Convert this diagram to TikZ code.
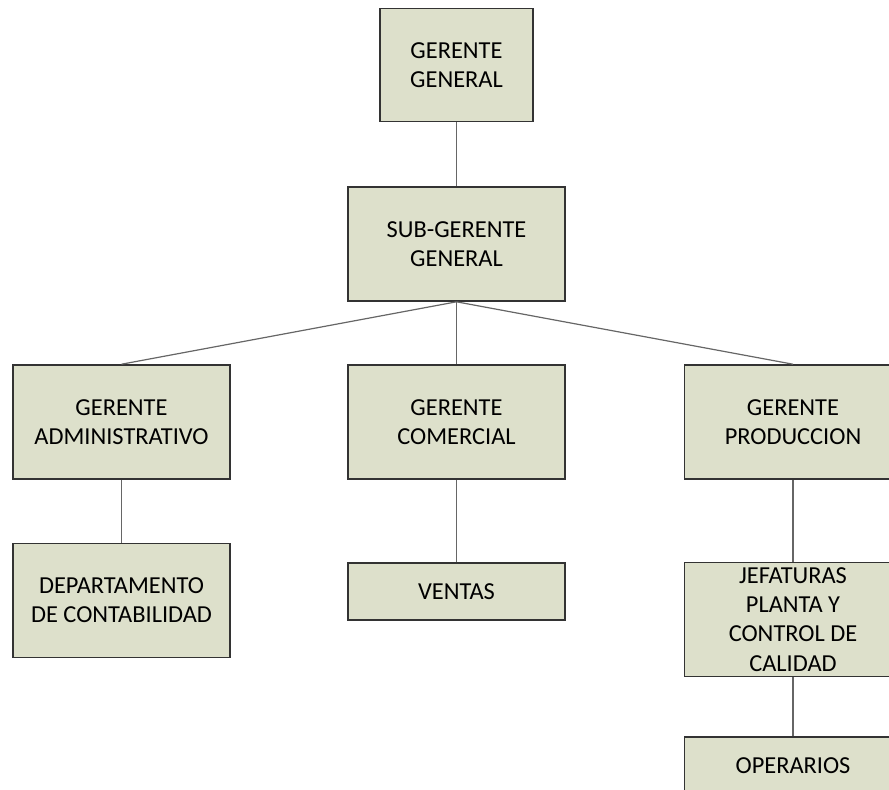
\documentclass[tikz,border=0pt]{standalone}
\usepackage{fontspec}
\setmainfont{Carlito}
\definecolor{cajafondo}{RGB}{221,224,203}
\tikzset{
	caja/.style={draw=black!80, line width=0.8pt, fill=cajafondo, align=center, inner sep=2pt,
		minimum width=108.5pt, minimum height=57pt, font=\fontsize{12.2}{14.6}\selectfont},
	linea/.style={draw=black!60, line width=0.6pt}
}
\begin{document}
\begin{tikzpicture}[x=0.5pt, y=-0.5pt]
		\useasboundingbox (0, 0) rectangle (889, 789);

		\node[caja, minimum width=76.5pt, minimum height=56.5pt] (gg) at (456.5, 65) {GERENTE\\GENERAL};
		\node[caja] (sgg) at (456.5, 244) {SUB-GERENTE\\GENERAL};

		\node[caja] (admin) at (121.5, 422) {GERENTE\\ADMINISTRATIVO};
		\node[caja] (comer) at (456.5, 422) {GERENTE\\COMERCIAL};
		\node[caja] (prod) at (793, 422) {GERENTE\\PRODUCCION};

		\node[caja] (conta) at (121.5, 600.5) {DEPARTAMENTO\\DE CONTABILIDAD};
		\node[caja, minimum height=28.5pt] (ventas) at (456.5, 591.5) {VENTAS};
		\node[caja] (jef) at (793, 619.5) {JEFATURAS\\PLANTA Y\\CONTROL DE\\CALIDAD};
		\node[caja, minimum height=28.5pt] (oper) at (793, 765.5) {OPERARIOS};

		\draw[linea] (gg.south) -- (sgg.north);
		\foreach \n in {admin, comer, prod} {
			\draw[linea] (sgg.south) -- (\n.north);
		}
		\draw[linea] (admin.south) -- (conta.north);
		\draw[linea] (comer.south) -- (ventas.north);
		\draw[linea] (prod.south) -- (jef.north);
		\draw[linea] (jef.south) -- (oper.north);
	\end{tikzpicture}
\end{document}
